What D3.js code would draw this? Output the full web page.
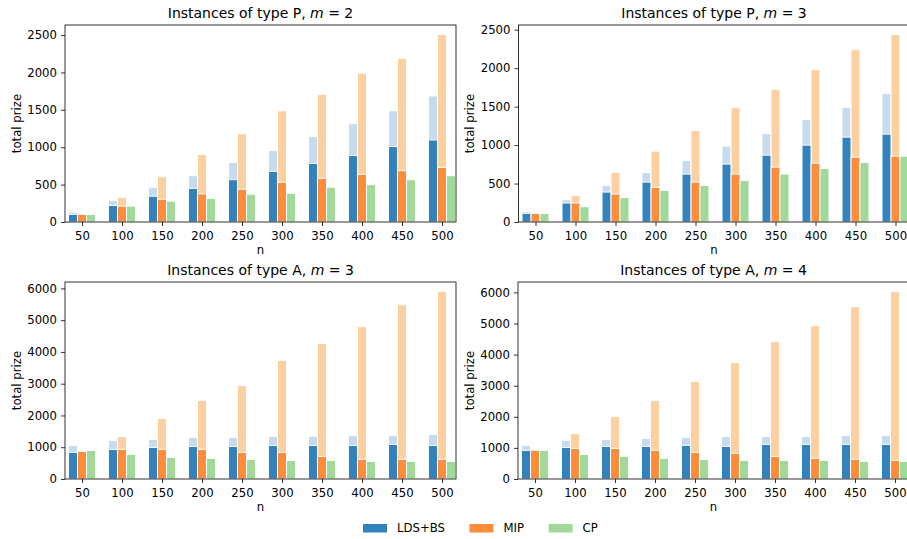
<!DOCTYPE html>
<html>
<head>
<meta charset="utf-8">
<script src="https://cdn.jsdelivr.net/npm/d3@7"></script>
<style>
  body { margin: 0; background: #fff; }
  svg { font-family: "DejaVu Sans", sans-serif; }
</style>
</head>
<body>
<svg id="chart" width="907" height="539"></svg>
<script>
// Размеры инстансов (ось x)
const sizes = [50, 100, 150, 200, 250, 300, 350, 400, 450, 500];
const seriesNames = ["LDS+BS", "MIP", "CP"];

// Тип P, m = 2
const pM2Lds   = [102, 221, 345, 451, 566, 677, 783, 889, 1009, 1097];
const pM2LdsUb = [133, 288, 465, 619, 796, 956, 1142, 1314, 1487, 1686];
const pM2Mip   = [102, 212, 305, 376, 438, 531, 584, 637, 686, 730];
const pM2MipUb = [102, 327, 606, 903, 1181, 1487, 1708, 1991, 2190, 2509];
const pM2Cp    = [102, 212, 279, 314, 372, 385, 465, 500, 566, 619];

// Тип P, m = 3
const pM3Lds   = [112, 247, 389, 519, 623, 753, 869, 999, 1103, 1142];
const pM3LdsUb = [138, 294, 476, 644, 800, 986, 1150, 1332, 1492, 1670];
const pM3Mip   = [112, 247, 363, 450, 519, 623, 714, 765, 843, 856];
const pM3MipUb = [112, 346, 644, 921, 1189, 1492, 1726, 1981, 2240, 2439];
const pM3Cp    = [112, 199, 320, 411, 476, 541, 623, 696, 774, 856];

// Тип A, m = 3
const aM3Lds   = [838, 932, 995, 1026, 1026, 1058, 1058, 1058, 1089, 1058];
const aM3LdsUb = [1058, 1215, 1246, 1309, 1309, 1340, 1340, 1372, 1372, 1403];
const aM3Mip   = [869, 932, 932, 932, 838, 838, 712, 618, 618, 618];
const aM3MipUb = [901, 1340, 1906, 2471, 2942, 3728, 4262, 4796, 5487, 5906];
const aM3Cp    = [901, 775, 681, 649, 618, 586, 586, 555, 555, 555];

// Тип A, m = 4
const aM4Lds   = [920, 1016, 1048, 1048, 1080, 1048, 1112, 1112, 1112, 1112];
const aM4LdsUb = [1080, 1241, 1273, 1305, 1337, 1369, 1369, 1369, 1401, 1401];
const aM4Mip   = [920, 984, 984, 920, 856, 824, 727, 663, 631, 599];
const aM4MipUb = [952, 1465, 2011, 2524, 3134, 3743, 4417, 4930, 5540, 6032];
const aM4Cp    = [920, 791, 727, 663, 631, 599, 599, 599, 567, 567];

// Цвета (tab20c)
const colors = {
    lds: "#3182bd", ldsUb: "#c6dbef",
    mip: "#fd8d3c", mipUb: "#fdd0a2",
    cp: "#a1d99b"
};

const panels = [
    {type: "P", m: 2, lds: pM2Lds, ldsUb: pM2LdsUb, mip: pM2Mip, mipUb: pM2MipUb, cp: pM2Cp, step: 500,  left: 65,  top: 25},
    {type: "P", m: 3, lds: pM3Lds, ldsUb: pM3LdsUb, mip: pM3Mip, mipUb: pM3MipUb, cp: pM3Cp, step: 500,  left: 518.5, top: 25},
    {type: "A", m: 3, lds: aM3Lds, ldsUb: aM3LdsUb, mip: aM3Mip, mipUb: aM3MipUb, cp: aM3Cp, step: 1000, left: 65,  top: 282},
    {type: "A", m: 4, lds: aM4Lds, ldsUb: aM4LdsUb, mip: aM4Mip, mipUb: aM4MipUb, cp: aM4Cp, step: 1000, left: 518, top: 282}
];

const axW = 391, axH = 197;
const barW = 11.25;   // ширина столбца в единицах n
const fontSize = 11.7;

const svg = d3.select("#chart");

panels.forEach(function (p) {
    const g = svg.append("g").attr("transform", "translate(" + p.left + "," + p.top + ")");

    const x = d3.scaleLinear().domain([28.75, 517.5]).range([0, axW]);
    const yMax = d3.max(p.mipUb.concat(p.ldsUb)) * 1.05;
    const y = d3.scaleLinear().domain([0, yMax]).range([axH, 0]);

    // Слои столбцов: сначала верхние границы, потом значения
    const layers = [
        {vals: p.ldsUb, off: -1, color: colors.ldsUb},
        {vals: p.mipUb, off: 0,  color: colors.mipUb},
        {vals: p.lds,   off: -1, color: colors.lds},
        {vals: p.mip,   off: 0,  color: colors.mip},
        {vals: p.cp,    off: 1,  color: colors.cp}
    ];

    layers.forEach(function (layer) {
        g.selectAll(null)
            .data(layer.vals)
            .enter()
            .append("rect")
            .attr("x", (d, i) => x(sizes[i] + layer.off * barW - barW / 2))
            .attr("width", x(barW) - x(0))
            .attr("y", d => y(d))
            .attr("height", d => y(0) - y(d))
            .attr("fill", layer.color)
            .attr("stroke", "#fff")
            .attr("stroke-width", 1);
    });

    // Оси
    const xAxis = g.append("g")
        .attr("transform", "translate(0," + axH + ")")
        .call(d3.axisBottom(x).tickValues(sizes).tickSize(4).tickPadding(5.4).tickSizeOuter(0));
    const yAxis = g.append("g")
        .call(d3.axisLeft(y).tickValues(d3.range(0, yMax, p.step)).tickFormat(d3.format("d"))
            .tickSize(4).tickPadding(4).tickSizeOuter(0));

    [xAxis, yAxis].forEach(function (a) {
        a.select(".domain").remove();
        a.selectAll("line").attr("stroke", "#000").attr("stroke-width", 0.8);
        a.selectAll("text").attr("font-size", fontSize).attr("fill", "#000")
            .attr("font-family", "DejaVu Sans, sans-serif");
    });

    // Рамка
    g.append("rect")
        .attr("width", axW).attr("height", axH)
        .attr("fill", "none").attr("stroke", "#000").attr("stroke-width", 0.8);

    // Заголовок
    const title = g.append("text")
        .attr("x", axW / 2).attr("y", -7)
        .attr("text-anchor", "middle")
        .attr("font-size", 14)
        .attr("fill", "#000");
    title.append("tspan").text("Instances of type " + p.type + ", ");
    title.append("tspan").attr("font-style", "italic").text("m");
    title.append("tspan").text(" = " + p.m);

    // Подписи осей
    g.append("text")
        .attr("x", axW / 2).attr("y", axH + 32)
        .attr("text-anchor", "middle")
        .attr("font-size", fontSize)
        .text("n");
    g.append("text")
        .attr("transform", "translate(-44.5," + (axH / 2) + ") rotate(-90)")
        .attr("text-anchor", "middle")
        .attr("font-size", fontSize)
        .text("total prize");
});

// Легенда: позиции элементов считаем по ширине подписей
const legendColors = [colors.lds, colors.mip, colors.cp];
const legend = svg.append("g").attr("transform", "translate(363,524)");
let lx = 0;
seriesNames.forEach(function (name, i) {
    const item = legend.append("g").attr("transform", "translate(" + lx + ",0)");
    item.append("rect")
        .attr("width", 24).attr("height", 8.5)
        .attr("fill", legendColors[i]);
    const t = item.append("text")
        .attr("x", 34).attr("y", 8.3)
        .attr("font-size", fontSize)
        .attr("fill", "#000")
        .text(name);
    lx += 34 + t.node().getComputedTextLength() + 24.5;
});
</script>
</body>
</html>
